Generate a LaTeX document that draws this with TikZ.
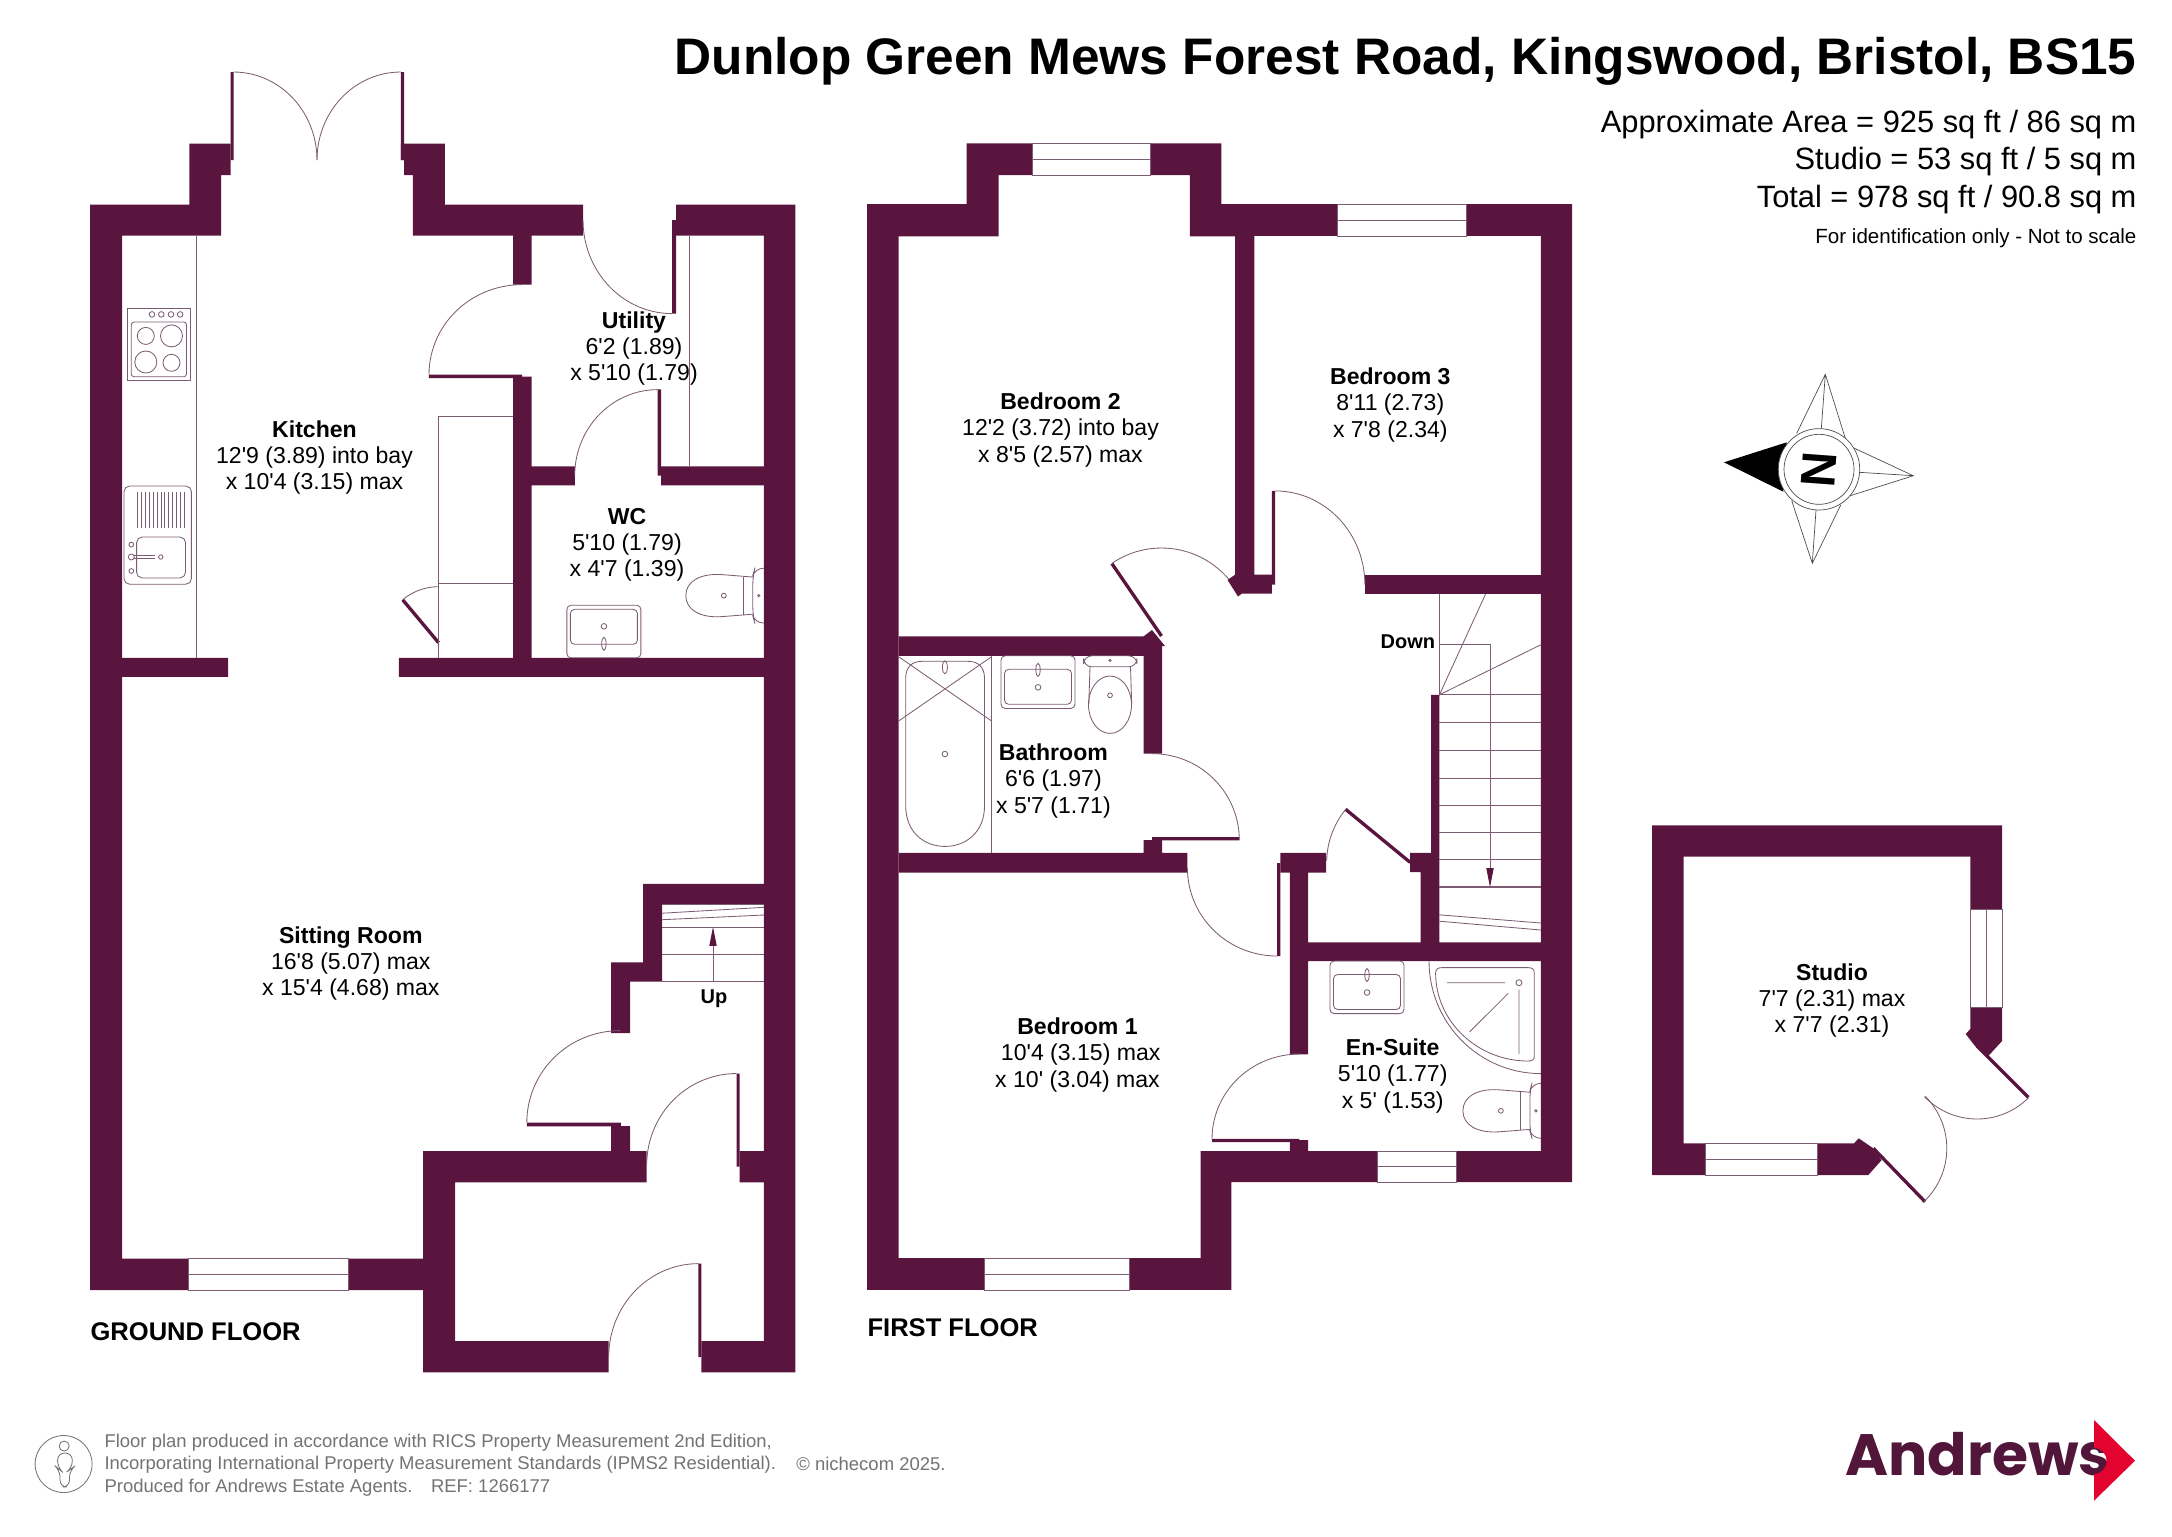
\documentclass[tikz,border=0pt]{standalone}
\usepackage{fontspec}
\setmainfont{Liberation Sans}[Ligatures=TeXOff]
\newfontfamily\logofont{Poppins}
\usetikzlibrary{arrows.meta}
\definecolor{wallc}{HTML}{5A153F}
\definecolor{linec}{HTML}{7B5C72}
\definecolor{footc}{HTML}{737373}
\definecolor{logoc}{HTML}{51163A}
\definecolor{logor}{HTML}{E4032E}
\tikzset{
  room/.style={align=center,inner sep=0pt,font=\fontsize{8.3}{9.4}\selectfont},
  floorname/.style={anchor=west,inner sep=0pt,font=\bfseries\fontsize{9.2}{11}\selectfont},
  stairname/.style={inner sep=0pt,font=\bfseries\fontsize{7.2}{9}\selectfont},
  areatext/.style={anchor=east,inner sep=0pt,font=\fontsize{11.1}{13}\selectfont},
  foottext/.style={anchor=west,inner sep=0pt,text=footc,font=\fontsize{6.65}{8}\selectfont},
  fitting/.style={draw=linec,line width=.3pt},
  glazing/.style={draw=linec,fill=white,line width=.3pt},
  swing/.style={draw=linec,line width=.3pt},
  leaf/.style={draw=wallc,line width=1.2pt},
  updown/.style={-{Stealth[inset=0pt,length=6.8pt,width=2.6pt,color=wallc]},draw=linec,line width=.3pt}
}
% swing of a door: centre, radii, start and end angle (screen angles)
\newcommand{\doorarc}[6]{\draw[swing,domain=#5:#6,samples=30,variable=\a] plot ({#1+#3*cos(\a)},{#2+#4*sin(\a)});}
% basin, origin at middle of the wall side
\newcommand{\basinset}{
\draw[fitting,rounded corners=1.5pt] (-37,0) rectangle (37,52.6);
\draw[fitting,rounded corners=1.5pt] (-33.5,13.5) rectangle (33.5,48.5);
\draw[fitting] (0,31.5) circle[radius=2.8];
\draw[fitting] (0,14) ellipse[x radius=2.2,y radius=6.5];
}
% pan seen from the side, origin at the wall
\newcommand{\sidepan}{
\draw[fitting,rounded corners=3pt] (0,-27.4) -- (-9,-27.4) -- (-11,-20) -- (-11,20) -- (-9,27.4) -- (0,27.4);
\draw[fitting] (-11,-18.6) -- (-42,-21) .. controls (-64,-22.5) and (-78,-14) .. (-78,0) .. controls (-78,14) and (-64,22.5) .. (-42,21) -- (-11,18.6);
\draw[fitting] (-20.5,-19) -- (-20.5,19);
\draw[fitting] (-40,0) circle[radius=2.4];
\draw[fitting] (-5,0) circle[radius=1.2];
}
\begin{document}
\begin{tikzpicture}[x=.36pt,y=-.36pt]
\useasboundingbox (0,0) rectangle (2172,1536);
% ground floor walls
\fill[wallc] (90,204.6)--(189.4,204.6)--(189.4,143.5)--(230.6,143.5)--(230.6,175)--(221,175)--(221,235.7)--(122,235.7)--(122,1258.5)--(188.5,1258.5)--(188.5,1290.2)--(90,1290.2)--cycle;
\fill[wallc] (400.8,143.5)--(444.9,143.5)--(444.9,204.6)--(583,204.6)--(583,235.7)--(531.7,235.7)--(531.7,284.5)--(513.2,284.5)--(513.2,235.7)--(412.9,235.7)--(412.9,175)--(404.2,175)--(404.2,160)--(400.8,160)--cycle;
\fill[wallc] (676,204.6)--(795.3,204.6)--(795.3,1372.4)--(701.3,1372.4)--(701.3,1341)--(763.8,1341)--(763.8,1182.3)--(739.6,1182.3)--(739.6,1151)--(763.8,1151)--(763.8,235.7)--(676,235.7)--cycle;
\fill[wallc] (348,1258.5)--(423,1258.5)--(423,1151)--(646.5,1151)--(646.5,1182.3)--(455,1182.3)--(455,1341)--(608.7,1341)--(608.7,1372.4)--(423,1372.4)--(423,1290.2)--(348,1290.2)--cycle;
\fill[wallc] (763.8,883.9)--(643,883.9)--(643,962.4)--(611,962.4)--(611,1033)--(630,1033)--(630,981.7)--(662,981.7)--(662,904)--(763.8,904)--cycle;
\fill[wallc] (513.2,376.7) rectangle (531.7,657.8) (122,657.8) rectangle (228,676.8) (398.8,657.8) rectangle (763.8,676.8)
  (531.7,466.3) rectangle (574.8,485.3) (661,466.3) rectangle (763.8,485.3) (611,1126) rectangle (630,1151);
% ground floor door leaves
\fill[wallc] (230.6,72) rectangle (233.5,160) (400.8,72) rectangle (404.2,160) (428.9,374.6) rectangle (522,378)
  (672,220) rectangle (676,313.6) (657.7,389.3) rectangle (661,475.6) (526.8,1122.6) rectangle (620.8,1126.3)
  (736.7,1073.5) rectangle (739.6,1166.7) (698.4,1263.6) rectangle (701.3,1357);
\draw[leaf] (402.7,599.8) -- (438.6,642.7);
\doorarc{233.5}{160}{83.5}{88}{-90}{0}
\doorarc{400.8}{160}{83.8}{88}{180}{270}
\doorarc{522}{374.6}{93}{90}{180}{270}
\doorarc{672}{220}{89}{93.6}{90}{180}
\doorarc{657.7}{475.6}{83}{86}{180}{270}
\doorarc{438.6}{642.7}{56}{56}{230}{270}
\doorarc{620}{1122.6}{93.2}{92}{180}{270}
\doorarc{736.7}{1165}{90}{91.5}{180}{270}
\doorarc{698.4}{1357}{89.7}{93.4}{180}{270}
% kitchen units
\draw[fitting] (196.2,235.7) -- (196.2,657.8);
\draw[fitting] (689.7,235.7) -- (689.7,466.3);
\draw[fitting] (438.6,657.8) -- (438.6,416.7) -- (513.2,416.7) (438.6,583.3) -- (513.2,583.3);
\draw[fitting] (127.4,308) rectangle (190,380);
\draw[fitting,rounded corners=1pt] (131.3,322) rectangle (186.5,376.7);
\foreach \knob in {152,161.3,171,180.2} {\draw[fitting] (\knob,314.4) circle[radius=2.8];}
\draw[fitting] (145.8,335.9) circle[radius=8.5] (171.5,335.9) circle[radius=11] (145.8,362) circle[radius=11] (171.5,362.8) circle[radius=8.5];
\draw[fitting,rounded corners=2pt] (124,486) rectangle (191.4,584.2);
\foreach \rib in {137.6,141.5,...,185} {\draw[fitting] (\rib,492.4) -- (\rib,528.2);}
\draw[fitting,rounded corners=2pt] (136.6,537) rectangle (185.5,577.9);
\draw[fitting] (131.3,557) circle[radius=3] (160.8,557) circle[radius=2.2] (131.3,544.6) circle[radius=2.4] (131.3,571) circle[radius=2.4];
\draw[fitting] (134.3,555.5) -- (154.5,555.5) (134.3,558.5) -- (154.5,558.5);
% WC fittings
\begin{scope}[shift={(603.9,657.8)},yscale=-1] \basinset \end{scope}
\begin{scope}[shift={(763.8,595.6)}] \sidepan \end{scope}
% stairs up
\foreach \tread in {904,927,954,981.7} {\draw[fitting] (662,\tread) -- (763.8,\tread);}
\draw[fitting] (662,913.2) -- (763.8,907.3) (662,919.7) -- (763.8,915);
\draw[updown] (713,981.7) -- (713,927);
% first floor walls
\fill[wallc] (867,204.2)--(966.6,204.2)--(966.6,143.3)--(1032.6,143.3)--(1032.6,175)--(998.7,175)--(998.7,236.3)--(898.6,236.3)--(898.6,1258.2)--(984.5,1258.2)--(984.5,1289.9)--(867,1289.9)--cycle;
\fill[wallc] (1150.6,143.3)--(1221.4,143.3)--(1221.4,204.2)--(1337,204.2)--(1337,235.9)--(1254.4,235.9)--(1254.4,574.7)--(1271.9,574.7)--(1271.9,593.7)--(1241.7,593.7)--(1238,596.5)--(1227.5,579.9)--(1235,574.7)--(1235,236.3)--(1189.8,236.3)--(1189.8,175)--(1150.6,175)--cycle;
\fill[wallc] (1465.9,204.2)--(1572,204.2)--(1572,1182)--(1456.4,1182)--(1456.4,1151.2)--(1540.9,1151.2)--(1540.9,235.9)--(1465.9,235.9)--cycle;
\fill[wallc] (1364.9,574.7) rectangle (1540.9,593.7);
\fill[wallc] (898.6,636.4)--(1143.5,636.4)--(1152,630)--(1165,646)--(1162,646)--(1162,753.6)--(1143.5,753.6)--(1143.5,655.8)--(898.6,655.8)--cycle;
\fill[wallc] (898.6,852.8)--(1143.5,852.8)--(1143.5,840)--(1162,840)--(1162,852.8)--(1187.4,852.8)--(1187.4,872.5)--(898.6,872.5)--cycle;
\fill[wallc] (1280.4,852.8)--(1326.2,852.8)--(1326.2,872.5)--(1308.2,872.5)--(1308.2,942.3)--(1420.5,942.3)--(1420.5,872)--(1410.2,872)--(1410.2,852.8)--(1431,852.8)--(1431,694.8)--(1439.4,694.8)--(1439.4,942.3)--(1540.9,942.3)--(1540.9,961)--(1308.2,961)--(1308.2,1054.3)--(1289.8,1054.3)--(1289.8,872.5)--(1280.4,872.5)--cycle;
\fill[wallc] (1200.6,1151.2)--(1289.8,1151.2)--(1289.8,1140)--(1308.2,1140)--(1308.2,1151.2)--(1377.6,1151.2)--(1377.6,1182)--(1231.3,1182)--(1231.3,1289.9)--(1129.4,1289.9)--(1129.4,1258.2)--(1200.6,1258.2)--cycle;
% first floor door leaves
\fill[wallc] (1271.9,490.9) rectangle (1275.2,584.6) (1152,837.2) rectangle (1239.3,840.4) (1277,863) rectangle (1280.4,956) (1212,1138.8) rectangle (1299.3,1142);
\draw[leaf] (1111.9,563.6) -- (1161.5,636);
\draw[leaf] (1345.5,809.2) -- (1410.2,862.4);
\doorarc{1161.5}{636}{88}{88}{235.6}{319.6}
\doorarc{1275.2}{584.6}{89.7}{93.7}{270}{360}
\doorarc{1152}{840}{87.3}{86.4}{270}{360}
\doorarc{1277}{868}{89.6}{88}{90}{180}
\doorarc{1410.2}{862.4}{83.5}{83.5}{181}{219.4}
\doorarc{1299.3}{1139}{87.3}{85}{180}{270}
% bathroom fittings
\draw[fitting] (991.6,655.8) -- (991.6,852.8);
\draw[fitting] (898.6,656.7) -- (991.6,721) (991.6,656.7) -- (898.6,721);
\draw[fitting] (905.7,806) -- (905.7,678) .. controls (905.7,667) and (912,661.3) .. (922,661.3) -- (968,661.3) .. controls (978,661.3) and (984.5,667) .. (984.5,678) -- (984.5,806) .. controls (984.5,832) and (966,846.4) .. (945,846.4) .. controls (924,846.4) and (905.7,832) .. (905.7,806) -- cycle;
\draw[fitting] (944.9,667.3) ellipse[x radius=2.5,y radius=6.5] (944.9,754) circle[radius=2.8];
\begin{scope}[shift={(1038,655.8)}] \basinset \end{scope}
\draw[fitting,rounded corners=3pt] (1083.6,655.8) rectangle (1137,666.8);
\draw[fitting] (1090,666.8) -- (1088.8,704) (1130.5,666.8) -- (1131.7,704);
\draw[fitting] (1110,704.7) ellipse[x radius=21.5,y radius=28.7];
\draw[fitting] (1110,695.3) circle[radius=2.4] (1110,660.4) circle[radius=1.2];
% stairs down
\draw[fitting] (1439.4,593.7) -- (1439.4,694.8) -- (1485.7,593.7) (1439.4,694.8) -- (1540.9,644.7);
\foreach \tread in {694.8,722.8,750,778,805,832,859.7} {\draw[fitting] (1439.4,\tread) -- (1540.9,\tread);}
\draw[fitting,line width=.6pt] (1439.4,887.2) -- (1540.9,887.2);
\draw[fitting] (1439.4,914.8) -- (1540.9,923) (1439.4,921.2) -- (1540.9,930);
\draw[updown] (1439.4,644.7) -- (1490,644.7) -- (1490,887);
% en-suite fittings
\begin{scope}[shift={(1367,961)}] \basinset \end{scope}
\draw[swing,domain=90:180,samples=30,variable=\a] plot ({1540.9+111.9*cos(\a)},{961+112.6*sin(\a)});
\draw[fitting] (1435.6,973) .. controls (1435.6,969) and (1438,967.6) .. (1442,967.6) -- (1528,967.6) .. controls (1532,967.6) and (1534.3,969) .. (1534.3,973) -- (1534.3,1056) .. controls (1534.3,1060) and (1532,1061) .. (1528,1061) .. controls (1478,1061) and (1435.6,1022) .. (1435.6,973) -- cycle;
\draw[fitting] (1447,982.7) -- (1505,982.7) (1519,989.6) -- (1519,1054) (1469.6,1031.9) -- (1508.3,993.3);
\draw[fitting] (1519,982.7) circle[radius=3];
\begin{scope}[shift={(1540.9,1110.8)}] \sidepan \end{scope}
% studio walls
\fill[wallc] (1652,825.3)--(2002,825.3)--(2002,909)--(1970.3,909)--(1970.3,856.7)--(1683.7,856.7)--(1683.7,1143.3)--(1705.7,1143.3)--(1705.7,1175)--(1652,1175)--cycle;
\fill[wallc] (1970.3,1007)--(2002,1007)--(2002,1041)--(1988.3,1056)--(1975,1046)--(1965.7,1034)--(1970.3,1029)--cycle;
\fill[wallc] (1817,1143.3)--(1854,1143.3)--(1858.7,1138.3)--(1873.3,1148.3)--(1881.7,1160)--(1868.3,1175)--(1817,1175)--cycle;
\draw[leaf] (1977,1046) -- (2028.3,1097.3);
\draw[leaf] (1873.3,1148.3) -- (1925,1201.7);
\doorarc{1977}{1046}{73}{73}{45}{136}
\doorarc{1873.3}{1148.3}{73.5}{73.5}{-45}{46}
% windows
\foreach \xa/\xb/\ya/\yb in {188.5/348/1258.5/1290.2,1032.6/1150.6/143.3/175,1337/1465.9/204.2/235.9,984.5/1129.4/1258.2/1289.9,1377.6/1456.4/1151.2/1182,1705.7/1817/1143.3/1175} {
  \draw[glazing] (\xa,\ya) rectangle (\xb,\yb);
  \draw[glazing] (\xa,{(\ya+\yb)/2}) -- (\xb,{(\ya+\yb)/2});
}
\draw[glazing] (1970.3,909) rectangle (2002,1007);
\draw[glazing] (1986,909) -- (1986,1007);
% compass
\fill[black] (1724,462.3) -- (1786.7,442.3) -- (1783.3,491.7) -- cycle;
\draw[black!70,line width=.25pt] (1796.7,433.3) -- (1825.3,374.3) -- (1845.3,438.3) (1825.3,374.3) -- (1821.3,428.7)
  (1852.3,447.3) -- (1913.3,475.7) -- (1849.3,496) (1913.3,475.7) -- (1859.3,472.3)
  (1791.7,500.7) -- (1812.3,563.3) -- (1840.7,505) (1812.3,563.3) -- (1816,510);
\draw[black!70,fill=white,line width=.25pt] (1819,469.3) circle[radius=40.7];
\draw[black!70,line width=.25pt] (1819,469.3) circle[radius=35];
\node[inner sep=0pt,rotate=85.8,font=\bfseries\fontsize{17.6}{18}\selectfont] (northmark) at (1819,469.3) {N};
% labels
\node[anchor=east,inner sep=0pt,font=\bfseries\fontsize{18.5}{20}\selectfont] (title) at (2137,61) {Dunlop Green Mews Forest Road, Kingswood, Bristol, BS15};
\node[areatext] (area) at (2137,124.7) {Approximate Area = 925 sq ft / 86 sq m};
\node[areatext] (studioarea) at (2137,162) {Studio = 53 sq ft / 5 sq m};
\node[areatext] (totalarea) at (2137,199.4) {Total = 978 sq ft / 90.8 sq m};
\node[anchor=east,inner sep=0pt,font=\fontsize{7.4}{9}\selectfont] (scalenote) at (2137,238.5) {For identification only - Not to scale};
\node[room] (kitchen) at (314.5,457.5) {\textbf{Kitchen}\\12'9 (3.89) into bay\\x 10'4 (3.15) max};
\node[room] (utility) at (634,348.5) {\textbf{Utility}\\6'2 (1.89)\\x 5'10 (1.79)};
\node[room] (wc) at (627,544.5) {\textbf{WC}\\5'10 (1.79)\\x 4'7 (1.39)};
\node[room] (sitting) at (350.8,963.7) {\textbf{Sitting Room}\\16'8 (5.07) max\\x 15'4 (4.68) max};
\node[room] (bedtwo) at (1060.5,430) {\textbf{Bedroom 2}\\12'2 (3.72) into bay\\x 8'5 (2.57) max~};
\node[room] (bedthree) at (1390.3,405) {\textbf{Bedroom 3}\\8'11 (2.73)\\x 7'8 (2.34)};
\node[room] (bathroom) at (1053.4,781) {\textbf{Bathroom}\\6'6 (1.97)\\x 5'7 (1.71)};
\node[room] (bedone) at (1077.5,1055) {\textbf{Bedroom 1}\\~10'4 (3.15) max\\x 10' (3.04) max};
\node[room] (ensuite) at (1392.7,1076) {\textbf{En-Suite}\\5'10 (1.77)\\x 5' (1.53)};
\node[room] (studio) at (1832,1000.7) {\textbf{Studio}\\7'7 (2.31) max\\x 7'7 (2.31)};
\node[stairname] (upmark) at (714,998.6) {Up};
\node[stairname] (downmark) at (1407.8,642) {Down};
\node[floorname] (groundname) at (90,1332) {GROUND FLOOR};
\node[floorname] (firstname) at (867,1328) {FIRST FLOOR};
% footer
\draw[footc,line width=.3pt] (63.6,1464) circle[radius=28.5];
\draw[footc,line width=.3pt] (64.2,1446) circle[radius=5];
\draw[footc,line width=.3pt,rounded corners=2.5pt] (60,1487) -- (60,1470) -- (57.6,1468) -- (57.6,1453) -- (72.3,1453) -- (72.3,1468) -- (69.5,1470) -- (69.5,1487) -- cycle;
\node[foottext] (footone) at (104,1442.7) {Floor plan produced in accordance with RICS Property Measurement 2nd Edition,};
\node[foottext] (foottwo) at (104,1464.3) {Incorporating International Property Measurement Standards (IPMS2 Residential).};
\node[foottext] (footcopy) at (795.8,1464.3) {© nichecom 2025.};
\node[foottext] (footthree) at (104,1487.3) {Produced for Andrews Estate Agents.\quad REF: 1266177};
% logo
\node[anchor=base west,inner sep=0pt,text=logoc,font=\logofont\bfseries\fontsize{21}{22}\selectfont] (logoname) at (1845,1475) {Andrews};
\fill[logor] (2094,1420) -- (2135,1460.7) -- (2094,1500.7) -- (2094,1474) .. controls (2101,1474) and (2106.7,1468) .. (2106.7,1461) .. controls (2106.7,1454) and (2101,1447.7) .. (2094,1447.7) -- cycle;
\end{tikzpicture}
\end{document}
